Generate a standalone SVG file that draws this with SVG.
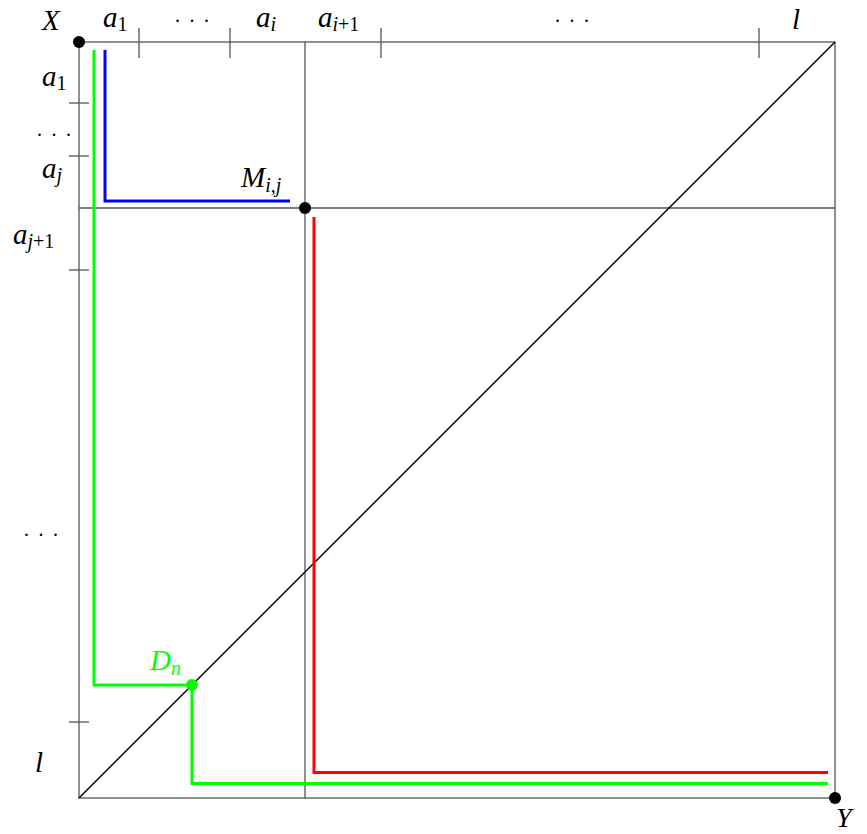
<svg xmlns="http://www.w3.org/2000/svg" width="867" height="834" viewBox="0 0 867 834">
<style>
.ax{stroke:#555;stroke-width:1.3;fill:none}
.t{font-family:"Liberation Serif","DejaVu Serif",serif;font-style:italic;font-size:29px;fill:#000}
.s{font-size:20px;font-style:normal}
.si{font-size:20px}
.n{font-family:"Liberation Serif",serif;font-size:20px;letter-spacing:9.5px;fill:#000}
.p{fill:none;stroke-width:3}
</style>
<rect width="867" height="834" fill="#fff"/>
<g id="connectors">
<rect class="ax" x="79" y="42" width="756" height="756"/>
<line class="ax" x1="305" y1="42" x2="305" y2="798"/>
<line class="ax" x1="79" y1="208" x2="835" y2="208"/>
<line x1="79" y1="798" x2="835" y2="42" stroke="#000" stroke-width="1.4"/>
<g class="ax">
<line x1="139" y1="28" x2="139" y2="58"/>
<line x1="230" y1="28" x2="230" y2="58"/>
<line x1="381" y1="28" x2="381" y2="58"/>
<line x1="759" y1="28" x2="759" y2="58"/>
<line x1="69" y1="103" x2="89" y2="103"/>
<line x1="69" y1="156" x2="89" y2="156"/>
<line x1="69" y1="270" x2="89" y2="270"/>
<line x1="69" y1="722" x2="89" y2="722"/>
</g>
<polyline class="p" stroke="#0000ff" points="105,50 105,201 290,201"/>
<polyline class="p" stroke="#00ff00" points="94,50 94,685 192,685 192,783.5 828,783.5"/>
<polyline class="p" stroke="#ff0000" points="314,217 314,772.5 828,772.5"/>
</g>
<g id="X"><circle cx="79" cy="42" r="6" fill="#000"/><text class="t" x="42" y="30">X</text></g>
<g id="M"><circle cx="305" cy="208" r="6" fill="#000"/><text class="t" x="241" y="187">M<tspan class="si" dy="5">i,j</tspan></text></g>
<g id="Y"><circle cx="835" cy="798" r="6" fill="#000"/><text class="t" x="836" y="827" style="font-size:28px">Y</text></g>
<g id="Dn"><circle cx="192" cy="685" r="6" fill="#00ff00"/><text class="t" x="150" y="670" style="fill:#00ff00">D<tspan class="si" dy="5">n</tspan></text></g>
<g id="labels">
<text class="t" x="103" y="27">a<tspan class="s" dy="4">1</tspan></text>
<text class="n" x="175" y="22">...</text>
<text class="t" x="256" y="27">a<tspan class="si" dy="4">i</tspan></text>
<text class="t" x="318" y="27">a<tspan class="si" dy="4">i</tspan><tspan class="s">+1</tspan></text>
<text class="n" x="555" y="22">...</text>
<text class="t" x="792" y="29">l</text>
<text class="t" x="42" y="86">a<tspan class="s" dy="4">1</tspan></text>
<text class="n" x="37" y="136">...</text>
<text class="t" x="42" y="178">a<tspan class="si" dy="4">j</tspan></text>
<text class="t" x="13" y="244">a<tspan class="si" dy="4">j</tspan><tspan class="s">+1</tspan></text>
<text class="n" x="24" y="536">...</text>
<text class="t" x="35" y="772">l</text>
</g>
</svg>
